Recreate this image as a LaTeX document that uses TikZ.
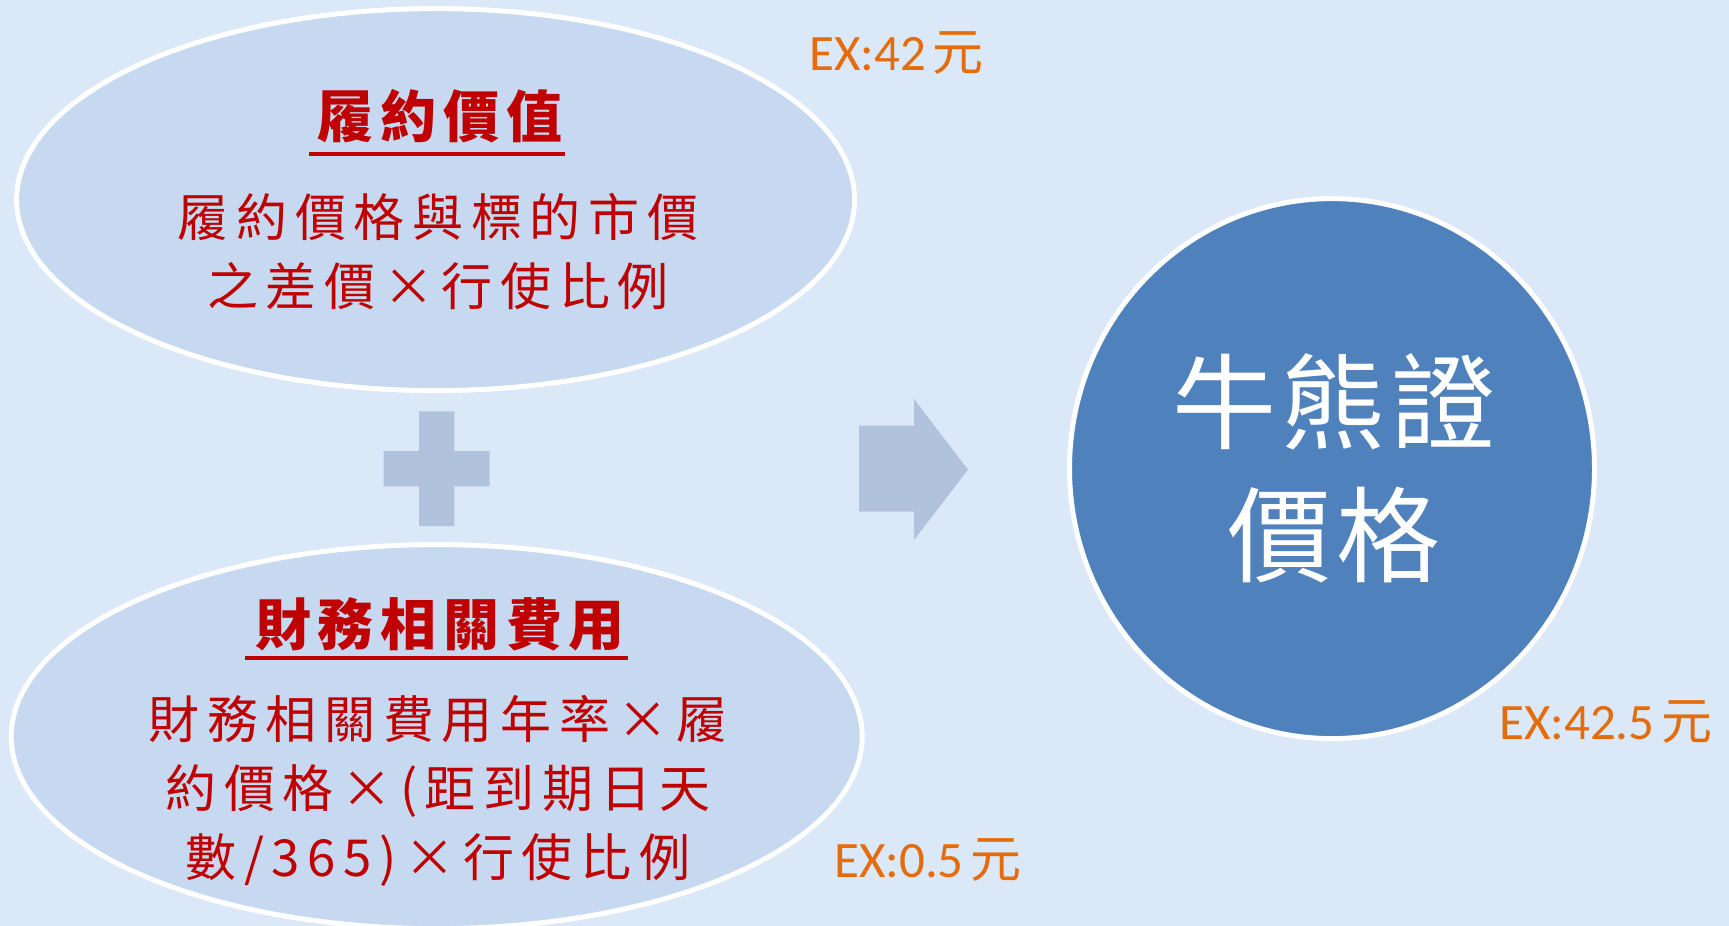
\documentclass[tikz,border=0pt]{standalone}
\usepackage{fontspec}
\usetikzlibrary{shapes.geometric}
\newfontfamily\cjk[LetterSpace=15]{Noto Sans CJK TC}
\newfontfamily\cjkt[LetterSpace=12]{Noto Sans CJK TC}
\newfontfamily\cjkbig[LetterSpace=5]{Noto Sans CJK TC}
\newfontfamily\cjkplain{Noto Sans CJK TC}
\newfontfamily\exfont{Carlito}
\definecolor{bgc}{RGB}{219,232,247}
\definecolor{ellc}{RGB}{198,217,240}
\definecolor{shapec}{RGB}{176,194,220}
\definecolor{circc}{RGB}{79,129,189}
\definecolor{redc}{RGB}{192,0,0}
\definecolor{orc}{RGB}{228,108,10}
\tikzset{
  oval/.style={ellipse, fill=ellc, draw=white, line width=5pt, inner sep=0pt},
  titletext/.style={text=redc, font=\cjkt\bfseries\fontsize{56}{62}\selectfont, inner sep=0pt},
  bodytext/.style={text=redc, font=\cjk\fontsize{51}{69}\selectfont, align=center, inner sep=0pt},
  extext/.style={text=orc, font=\exfont\fontsize{51}{54}\selectfont, anchor=west, inner sep=0pt},
  deco/.style={fill=shapec, draw=none}
}
\begin{document}
\begin{tikzpicture}[x=1pt,y=-1pt]
\useasboundingbox (0,0) rectangle (1729,926);
\fill[bgc] (0,0) rectangle (1729,926);
% top ellipse
\node[oval, minimum width=838pt, minimum height=382pt] (e1) at (435.6,199.6) {};
\node[titletext] (t1) at (440,116) {履約價值};
\draw[redc, line width=3.5pt] (309,154) -- (565,154);
\node[bodytext] (b1) at (438,252) {履約價格與標的市價\\之差價×行使比例};
% bottom ellipse
\node[oval, minimum width=851pt, minimum height=384pt] (e2) at (436.7,736.6) {};
\node[titletext] (t2) at (440,624) {財務相關費用};
\draw[redc, line width=3.5pt] (245,658) -- (628,658);
\node[bodytext] (b2) at (438,791) {財務相關費用年率×履\\約價格×(距到期日天\\數/365)×行使比例};
% plus
\fill[deco] (419,411.3) -- (454.3,411.3) -- (454.3,451) -- (489.6,451) -- (489.6,486.3)
  -- (454.3,486.3) -- (454.3,526) -- (419,526) -- (419,486.3) -- (383.7,486.3)
  -- (383.7,451) -- (419,451) -- cycle;
% arrow
\fill[deco] (859,425.6) -- (914,425.6) -- (914,399) -- (968,469.7) -- (914,540)
  -- (914,511.7) -- (859,511.7) -- cycle;
% circle
\node[ellipse, fill=circc, draw=white, line width=5pt, minimum width=525pt, minimum height=540pt, inner sep=0pt] (c) at (1332,468.6) {};
\node[text=white, font=\cjkbig\fontsize{104}{133}\selectfont, align=center, inner sep=0pt] (ct) at (1334,468) {牛熊證\\價格};
% labels
\node[extext] (x1) at (809,53) {EX:42\hspace{7pt}{\cjkplain 元}};
\node[extext] (x2) at (834,860) {EX:0.5\hspace{7pt}{\cjkplain 元}};
\node[extext] (x3) at (1499,722) {EX:42.5\hspace{7pt}{\cjkplain 元}};
\end{tikzpicture}
\end{document}
